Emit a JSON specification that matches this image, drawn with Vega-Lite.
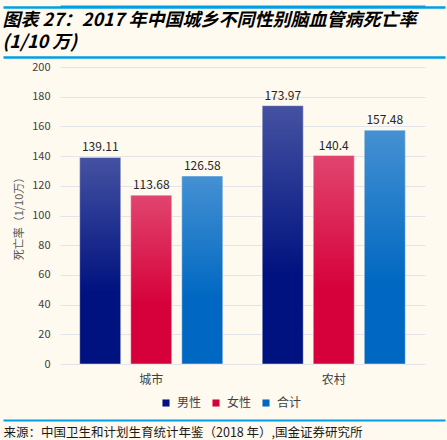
{
  "$schema": "https://vega.github.io/schema/vega-lite/v6.json",
  "description": "2017年中国城乡不同性别脑血管病死亡率",
  "autosize": "none",
  "width": 365,
  "height": 297,
  "padding": {"left": 60, "top": 67, "right": 22, "bottom": 76},
  "background": "#FEFAF0",
  "config": {
    "view": {"stroke": null},
    "font": "Noto Sans CJK SC"
  },
  "data": {
    "values": [
      {"area": "城市", "sex": "男性", "value": 139.11},
      {"area": "城市", "sex": "女性", "value": 113.68},
      {"area": "城市", "sex": "合计", "value": 126.58},
      {"area": "农村", "sex": "男性", "value": 173.97},
      {"area": "农村", "sex": "女性", "value": 140.4},
      {"area": "农村", "sex": "合计", "value": 157.48}
    ]
  },
  "encoding": {
    "x": {
      "field": "area",
      "type": "nominal",
      "sort": ["城市", "农村"],
      "scale": {"paddingInner": 0.216, "paddingOuter": 0.108}
    },
    "xOffset": {
      "field": "sex",
      "type": "nominal",
      "sort": ["男性", "女性", "合计"],
      "scale": {"paddingInner": 0.196, "paddingOuter": 0}
    },
    "y": {
      "field": "value",
      "type": "quantitative",
      "scale": {"domain": [0, 200], "nice": false}
    }
  },
  "layer": [
    {
      "mark": {"type": "bar"},
      "encoding": {
        "x": {
          "field": "area",
          "type": "nominal",
          "sort": ["城市", "农村"],
          "scale": {"paddingInner": 0.216, "paddingOuter": 0.108},
          "axis": {
            "title": "来源：中国卫生和计划生育统计年鉴（2018 年）,国金证券研究所",
            "titleAnchor": "start",
            "titleAlign": "left",
            "titleBaseline": "middle",
            "titleX": -57,
            "titleY": 68,
            "titleFontSize": 12.5,
            "titleFontWeight": "normal",
            "titleColor": "#1a1a1a",
            "labelAngle": 0,
            "labelFontSize": 12,
            "labelColor": "#404040",
            "labelPadding": 10,
            "domain": false,
            "ticks": false
          }
        },
        "y": {
          "field": "value",
          "type": "quantitative",
          "scale": {"domain": [0, 200], "nice": false},
          "axis": {
            "values": [0, 20, 40, 60, 80, 100, 120, 140, 160, 180, 200],
            "title": "死亡率（1/10万）",
            "titleFontSize": 11,
            "titleFontWeight": "normal",
            "titleColor": "#595959",
            "titlePadding": 7,
            "labelFontSize": 11,
            "labelColor": "#404040",
            "labelPadding": 10,
            "domain": false,
            "ticks": false,
            "grid": true,
            "gridColor": "#E3E3E8",
            "gridWidth": 1
          }
        },
        "color": {
          "field": "sex",
          "type": "nominal",
          "scale": {
            "domain": ["男性", "女性", "合计"],
            "range": ["#00127F", "#D6003A", "#0068C2"]
          },
          "legend": {
            "orient": "none",
            "direction": "horizontal",
            "legendX": 100,
            "legendY": 330,
            "title": null,
            "symbolType": "square",
            "symbolSize": 50,
            "symbolStrokeWidth": 0,
            "labelFontSize": 12,
            "labelColor": "#404040",
            "labelOffset": 5,
            "columnPadding": 8
          }
        }
      }
    },
    {
      "mark": {
        "type": "bar",
        "fill": {
          "gradient": "linear",
          "x1": 0, "y1": 0, "x2": 0, "y2": 1,
          "stops": [
            {"offset": 0, "color": "rgba(255,255,255,0.27)"},
            {"offset": 0.65, "color": "rgba(255,255,255,0)"}
          ]
        },
        "stroke": "rgba(255,255,255,0.45)",
        "strokeWidth": 1
      },
      "encoding": {
        "x": {
          "field": "area",
          "type": "nominal",
          "sort": ["城市", "农村"],
          "axis": null
        },
        "y": {
          "field": "value",
          "type": "quantitative",
          "axis": {
            "orient": "right",
            "values": [0],
            "labels": false,
            "domain": false,
            "grid": false,
            "ticks": true,
            "tickSize": 442,
            "tickOffset": 56,
            "tickColor": "#009FE3",
            "tickWidth": 2.2,
            "offset": -422,
            "title": null
          }
        }
      }
    },
    {
      "mark": {"type": "text", "dy": -10, "fontSize": 12, "color": "#262626"},
      "encoding": {
        "text": {"field": "value", "type": "nominal"},
        "x": {
          "field": "area",
          "type": "nominal",
          "sort": ["城市", "农村"],
          "axis": {
            "orient": "top",
            "offset": 61,
            "labels": false,
            "ticks": false,
            "grid": false,
            "domain": true,
            "domainColor": "#009FE3",
            "domainWidth": 2.2,
            "title": ["图表 27：2017 年中国城乡不同性别脑血管病死亡率", "(1/10 万)"],
            "titleAnchor": "start",
            "titleAlign": "left",
            "titleBaseline": "top",
            "titleX": -58,
            "titleY": 5,
            "titleFont": "Noto Sans CJK SC",
            "titleFontSize": 18,
            "titleFontWeight": "bold",
            "titleFontStyle": "italic",
            "titleColor": "#000000",
            "titleLineHeight": 22
          }
        },
        "y": {
          "field": "value",
          "type": "quantitative",
          "axis": {
            "orient": "right",
            "values": [173.4, 139.4],
            "labels": false,
            "domain": false,
            "grid": false,
            "ticks": true,
            "tickSize": 442,
            "tickOffset": -100,
            "tickColor": "#009FE3",
            "tickWidth": 2.5,
            "offset": -422,
            "title": null
          }
        }
      }
    }
  ],
  "resolve": {"axis": {"x": "independent", "y": "independent"}}
}
